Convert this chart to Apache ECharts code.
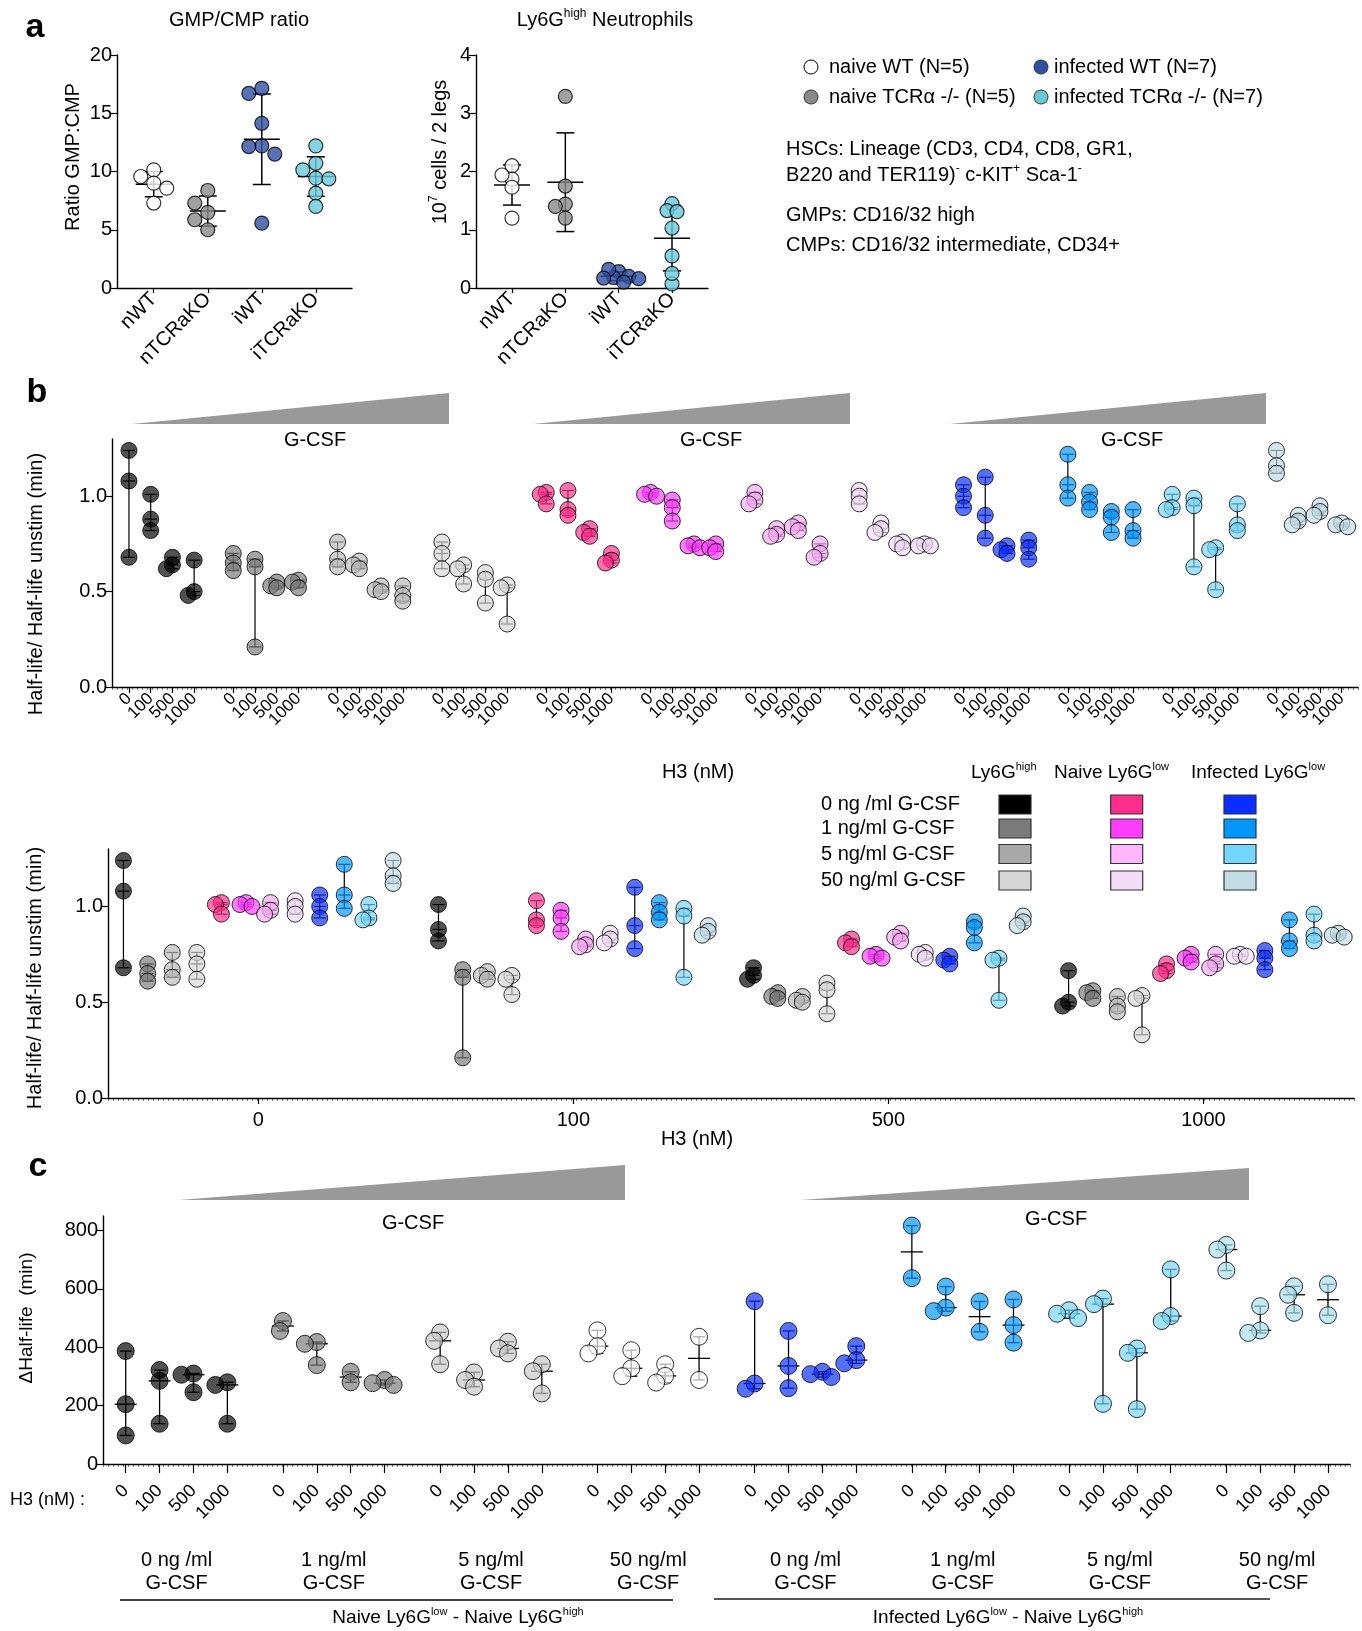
<!DOCTYPE html>
<html><head><meta charset="utf-8">
<script src="https://cdn.jsdelivr.net/npm/echarts@6/dist/echarts.min.js"></script>
<style>html,body{margin:0;padding:0;background:#fff}#c{width:1362px;height:1631px}</style>
</head><body><div id="c"></div>
<script>
// ================= DATA =================
// Panel a
const aCategories = ['nWT', 'nTCRaKO', 'iWT', 'iTCRaKO'];
const gmpCmpNWT = [10.14, 9.57, 9.0, 8.57, 7.29];
const gmpCmpNTCRaKO = [8.37, 7.29, 6.49, 5.86, 5.0];
const gmpCmpIWT = [17.14, 16.7, 14.14, 12.2, 12.14, 11.5, 5.57];
const gmpCmpITCRaKO = [12.2, 10.7, 10.14, 9.43, 9.37, 8.14, 7.0];
const neutroNWT = [2.10, 1.87, 1.94, 1.73, 1.20];
const neutroNTCRaKO = [3.29, 1.75, 1.44, 1.40, 1.20];
const neutroIWT = [0.28, 0.18, 0.20, 0.32, 0.17, 0.10, 0.16];
const neutroITCRaKO = [1.45, 1.33, 1.31, 1.03, 0.55, 0.07, 0.25];
const aLegendLabels = ['naive WT (N=5)', 'naive TCRα -/- (N=5)', 'infected WT (N=7)', 'infected TCRα -/- (N=7)'];

// Panel b : [H3 0, 100, 500, 1000] x replicates (half-life ratio)
const h3Labels = ['0', '100', '500', '1000'];
const gcsfLabels = ['0 ng /ml G-CSF', '1 ng/ml G-CSF', '5 ng/ml G-CSF', '50 ng/ml G-CSF'];
const gcsfShort = ['0 ng /ml', '1 ng/ml', '5 ng/ml', '50 ng/ml'];
const bHigh0   = [[1.24, 1.08, 0.68], [1.01, 0.88, 0.82], [0.68, 0.64, 0.62], [0.665, 0.50, 0.48]];
const bHigh1   = [[0.70, 0.65, 0.61], [0.67, 0.63, 0.21], [0.55, 0.53, 0.52], [0.56, 0.55, 0.52]];
const bHigh5   = [[0.76, 0.67, 0.63], [0.66, 0.64, 0.62], [0.53, 0.51, 0.50], [0.53, 0.48, 0.45]];
const bHigh50  = [[0.76, 0.70, 0.62], [0.64, 0.62, 0.54], [0.60, 0.565, 0.44], [0.535, 0.52, 0.33]];
const bNaive0  = [[1.02, 1.01, 0.96], [1.03, 0.93, 0.90], [0.83, 0.81, 0.79], [0.70, 0.665, 0.65]];
const bNaive1  = [[1.02, 1.01, 1.00], [0.98, 0.94, 0.87], [0.75, 0.74, 0.73], [0.75, 0.73, 0.71]];
const bNaive5  = [[1.02, 0.98, 0.96], [0.83, 0.80, 0.79], [0.86, 0.84, 0.82], [0.75, 0.70, 0.68]];
const bNaive50 = [[1.03, 1.00, 0.96], [0.86, 0.83, 0.81], [0.76, 0.75, 0.73], [0.75, 0.74, 0.74]];
const bInf0    = [[1.06, 1.00, 0.94], [1.10, 0.90, 0.78], [0.74, 0.72, 0.70], [0.77, 0.73, 0.67]];
const bInf1    = [[1.22, 1.06, 0.99], [1.02, 0.97, 0.93], [0.92, 0.89, 0.81], [0.93, 0.82, 0.78]];
const bInf5    = [[1.01, 0.94, 0.93], [0.99, 0.95, 0.63], [0.73, 0.72, 0.51], [0.96, 0.85, 0.82]];
const bInf50   = [[1.24, 1.16, 1.12], [0.90, 0.87, 0.85], [0.95, 0.92, 0.90], [0.86, 0.85, 0.84]];

// Panel c : delta half-life (min)
const cNaive0  = [[387, 205, 98], [322, 285, 138], [310, 306, 246], [280, 271, 138]];
const cNaive1  = [[490, 456], [418, 412, 339], [316, 280], [288, 277, 271]];
const cNaive5  = [[451, 422, 342], [314, 288, 265], [419, 396, 379], [342, 318, 242]];
const cNaive50 = [[458, 404, 379], [390, 328, 301], [342, 302, 279], [436, 288]];
const cInf0    = [[558, 276, 258], [456, 336, 260], [316, 308, 298], [404, 356, 345]];
const cInf1    = [[817, 637], [608, 536, 524], [557, 453], [564, 476, 416]];
const cInf5    = [[527, 515, 500], [567, 548, 206], [396, 381, 188], [667, 507, 490]];
const cInf50   = [[751, 735, 663], [541, 458, 449], [609, 580, 518], [616, 510]];

const bGroups = [bHigh0, bHigh1, bHigh5, bHigh50, bNaive0, bNaive1, bNaive5, bNaive50, bInf0, bInf1, bInf5, bInf50];
const cGroups = [cNaive0, cNaive1, cNaive5, cNaive50, cInf0, cInf1, cInf5, cInf50];

// ================= STYLE / LAYOUT =================
const FONT = '"Liberation Sans", Arial, Helvetica, sans-serif';
const aFill = ['#ffffff', '#8a8a8a', '#2f4fa3', '#66c9dc'];
const bFill = ['#000000', '#7a7a7a', '#b8b8b8', '#d6d6d6', '#ff2e8a', '#ff3dff', '#f9a8f6', '#f2dcf7', '#0a2eff', '#0096ff', '#75d6ff', '#c2dce6'];
const cFill = ['#000000', '#7a7a7a', '#c8c8c8', '#ffffff', '#0a2eff', '#0096ff', '#75d6ff', '#a9e0f0'];
const legendFill = [
  ['#000000', '#7a7a7a', '#a8a8a8', '#d6d6d6'],
  ['#ff2e8a', '#ff3dff', '#ffb8ff', '#f2dcf7'],
  ['#0a2eff', '#0096ff', '#75d6ff', '#c2dce6']
];
const G = {
  a1: {left: 117, top: 55, width: 235, height: 233},
  a2: {left: 476, top: 55, width: 232, height: 233},
  b1: {left: 112, top: 439, width: 1246, height: 248},
  b2: {left: 108, top: 849, width: 1246, height: 249},
  c:  {left: 103, top: 1216, width: 1247, height: 248}
};
const B1X = {min: -0.78, max: 56.55, gStep: 4.8};
const B2X = {min: -0.477, max: 3.478, sub: 0.0779};
const CX  = {min: -0.67, max: 36.13, gStep: 4.64};
const AX1 = {min: -0.68, max: 3.67};
const AX2 = {min: -0.675, max: 3.675};

// ================= HELPERS =================
function rgba(hex, a) {
  const n = parseInt(hex.slice(1), 16);
  return 'rgba(' + (n >> 16 & 255) + ',' + (n >> 8 & 255) + ',' + (n & 255) + ',' + a + ')';
}
function median(a) {
  const s = a.slice().sort((x, y) => x - y), n = s.length;
  return n % 2 ? s[(n - 1) / 2] : (s[n / 2 - 1] + s[n / 2]) / 2;
}
function meanSd(a) {
  const m = a.reduce((s, v) => s + v, 0) / a.length;
  const sd = Math.sqrt(a.reduce((s, v) => s + (v - m) * (v - m), 0) / (a.length - 1));
  return [m, sd];
}
// simple beeswarm: pixel offsets so points do not pile up
function swarm(vals, pxPerUnit, minSep, step) {
  const placed = [], out = [];
  vals.forEach(v => {
    let dx = 0;
    for (let k = 0; k < 60; k++) {
      const cand = (k % 2 === 1 ? -1 : 1) * Math.ceil(k / 2) * step;
      if (placed.every(p => Math.hypot(cand - p.dx, (v - p.v) * pxPerUnit) >= minSep)) { dx = cand; break; }
    }
    placed.push({v, dx}); out.push(dx);
  });
  return out;
}
function rangeBars(capW, midW, lw) {
  return function (params, api) {
    const x = api.value(0);
    const lo = api.coord([x, api.value(1)]);
    const hi = api.coord([x, api.value(2)]);
    const md = api.coord([x, api.value(3)]);
    const st = {stroke: '#000', lineWidth: lw};
    const L = (x1, y1, x2, y2) => ({type: 'line', shape: {x1, y1, x2, y2}, style: st});
    return {type: 'group', children: [
      L(lo[0], lo[1], hi[0], hi[1]),
      L(lo[0] - capW / 2, lo[1], lo[0] + capW / 2, lo[1]),
      L(hi[0] - capW / 2, hi[1], hi[0] + capW / 2, hi[1]),
      L(md[0] - midW / 2, md[1], md[0] + midW / 2, md[1])
    ]};
  };
}
const round3 = v => Math.round(v * 1000) / 1000;
const xB1 = (g, h) => round3(g * B1X.gStep + h);
const xB2 = (g, h) => round3(h + (g - 5.5) * B2X.sub);
const xC  = (g, h) => round3(g * CX.gStep + h);

function groupScatter(groups, fills, xOf, xi, yi, pxY, size, minSep, step, alpha) {
  return groups.map((grp, g) => {
    const data = [];
    grp.forEach((vals, h) => {
      const offs = swarm(vals, pxY, minSep, step);
      vals.forEach((v, j) => data.push({value: [xOf(g, h), v], symbolOffset: [offs[j], 0]}));
    });
    return {type: 'scatter', xAxisIndex: xi, yAxisIndex: yi, symbol: 'circle', symbolSize: size, data, z: 3,
      silent: true, itemStyle: {color: rgba(fills[g], alpha), borderColor: '#000', borderWidth: 1}};
  });
}
function groupBars(groups, xOf, xi, yi, capW, midW, lw) {
  const data = [];
  groups.forEach((grp, g) => grp.forEach((vals, h) =>
    data.push([xOf(g, h), Math.min(...vals), Math.max(...vals), median(vals)])));
  return {type: 'custom', xAxisIndex: xi, yAxisIndex: yi, renderItem: rangeBars(capW, midW, lw), data, z: 2, silent: true};
}

// ================= AXES =================
const lbl = (size, extra) => Object.assign({color: '#000', fontSize: size, fontFamily: FONT, showMinLabel: true, showMaxLabel: true}, extra || {});
const axLine = {show: true, onZero: false, lineStyle: {color: '#000', width: 1.4}};
function tickVals(nG, xOf) { const t = []; for (let g = 0; g < nG; g++) for (let h = 0; h < 4; h++) t.push(xOf(g, h)); return t; }
const b1Ticks = tickVals(12, xB1);
// empty guard labels at both ends keep ECharts from dropping real end labels
const b1LabelVals = [B1X.min].concat(b1Ticks, [B1X.max]);
const cTicks = tickVals(8, xC);
const h3Of = (v, step) => { const g = Math.floor((v + 0.5) / step); return h3Labels[Math.round(v - g * step)]; };
const b1Label = v => (v <= B1X.min + 0.01 || v >= B1X.max - 0.01) ? '' : h3Of(v, B1X.gStep);

function minorAxis(gi) {
  return {gridIndex: gi, type: 'value', min: 0, max: 1, interval: 0.004, position: 'bottom',
    axisLine: {show: false, onZero: false}, axisTick: {show: true, length: 3, lineStyle: {color: '#000', width: 0.5}},
    axisLabel: {show: false}, splitLine: {show: false}};
}

const xAxes = [
  {gridIndex: 0, type: 'value', min: AX1.min, max: AX1.max, axisLine: axLine,
    axisTick: {customValues: [0, 1, 2, 3], length: 5, lineStyle: {color: '#000', width: 1.2}},
    axisLabel: lbl(20, {customValues: [0, 1, 2, 3], formatter: v => aCategories[Math.round(v)], rotate: 45, margin: 8}),
    splitLine: {show: false}},
  {gridIndex: 1, type: 'value', min: AX2.min, max: AX2.max, axisLine: axLine,
    axisTick: {customValues: [0, 1, 2, 3], length: 5, lineStyle: {color: '#000', width: 1.2}},
    axisLabel: lbl(20, {customValues: [0, 1, 2, 3], formatter: v => aCategories[Math.round(v)], rotate: 45, margin: 8}),
    splitLine: {show: false}},
  {gridIndex: 2, type: 'value', min: B1X.min, max: B1X.max, position: 'bottom', axisLine: axLine,
    axisTick: {customValues: b1Ticks, length: 6, lineStyle: {color: '#000', width: 1.2}},
    axisLabel: lbl(17, {customValues: b1LabelVals, formatter: b1Label, rotate: 45, margin: 9, hideOverlap: false}),
    splitLine: {show: false}},
  minorAxis(2),
  {gridIndex: 3, type: 'value', min: B2X.min, max: B2X.max, position: 'bottom', axisLine: axLine,
    axisTick: {customValues: [0, 1, 2, 3], length: 6, lineStyle: {color: '#000', width: 1.2}},
    axisLabel: lbl(20, {customValues: [0, 1, 2, 3], formatter: v => h3Labels[Math.round(v)], margin: 12}),
    splitLine: {show: false}},
  minorAxis(3),
  {gridIndex: 4, type: 'value', min: CX.min, max: CX.max, position: 'bottom', axisLine: axLine,
    axisTick: {customValues: cTicks, length: 9, lineStyle: {color: '#000', width: 1.2}},
    axisLabel: lbl(18, {customValues: cTicks, formatter: v => h3Of(v, CX.gStep), rotate: 45, margin: 24}),
    splitLine: {show: false}},
  minorAxis(4)
];
function yAx(gi, min, max, vals, fmt) {
  return {gridIndex: gi, type: 'value', min, max, position: 'left', axisLine: axLine,
    axisTick: {show: true, customValues: vals, length: 7, lineStyle: {color: '#000', width: 1.2}},
    axisLabel: lbl(20, {customValues: vals, formatter: fmt, margin: 5}),
    splitLine: {show: false}};
}
const yAxes = [
  yAx(0, 0, 20, [0, 5, 10, 15, 20], v => String(v)),
  yAx(1, 0, 4, [0, 1, 2, 3, 4], v => String(v)),
  yAx(2, 0, 1.3, [0, 0.5, 1], v => v.toFixed(1)),
  yAx(3, 0, 1.3, [0, 0.5, 1], v => v.toFixed(1)),
  yAx(4, 0, 850, [0, 200, 400, 600, 800], v => String(v))
];

// ================= SERIES =================
const series = [];
function panelA(sets, xi, yi, pxY, minSep, step) {
  const bars = sets.map((arr, i) => { const [m, sd] = meanSd(arr); return [i, m - sd, m + sd, m]; });
  series.push({type: 'custom', xAxisIndex: xi, yAxisIndex: yi, renderItem: rangeBars(18, 36, 1.5), data: bars, z: 2, silent: true});
  sets.forEach((arr, i) => {
    const offs = swarm(arr, pxY, minSep, step);
    series.push({type: 'scatter', name: aLegendLabels[i], xAxisIndex: xi, yAxisIndex: yi, symbol: 'circle', symbolSize: 14, z: 3, silent: true,
      data: arr.map((v, j) => ({value: [i, v], symbolOffset: [offs[j], 0]})),
      itemStyle: {color: aFill[i], borderColor: '#000', borderWidth: 1.2}});
  });
}
panelA([gmpCmpNWT, gmpCmpNTCRaKO, gmpCmpIWT, gmpCmpITCRaKO], 0, 0, G.a1.height / 20, 13, 13);
panelA([neutroNWT, neutroNTCRaKO, neutroIWT, neutroITCRaKO], 1, 1, G.a2.height / 4, 7, 5);

const pxB = G.b1.height / 1.3, pxC = G.c.height / 850;
series.push(groupBars(bGroups, xB1, 2, 2, 12, 12, 1.2));
series.push(...groupScatter(bGroups, bFill, xB1, 2, 2, pxB, 16, 5, 3, 0.85));
series.push(groupBars(bGroups, xB2, 4, 3, 12, 12, 1.2));
series.push(...groupScatter(bGroups, bFill, xB2, 4, 3, pxB, 16, 5, 3, 0.85));
series.push(groupBars(cGroups, xC, 6, 4, 12, 22, 1.3));
series.push(...groupScatter(cGroups, cFill, xC, 6, 4, pxC, 17, 10, 3, 0.85));

// ================= GRAPHIC (titles, legends, annotations) =================
const sup = (size) => ({
  n: {fontSize: size, fontFamily: FONT, fill: '#000', lineHeight: size + 4},
  s: {fontSize: Math.round(size * 0.6), fontFamily: FONT, fill: '#000', lineHeight: Math.round(size * 0.6), verticalAlign: 'top'}
});
function txt(text, x, y, o) {
  o = o || {};
  const el = {type: 'text', x, y, rotation: o.rot || 0, silent: true, z: 10,
    style: {text, fontSize: o.size || 20, fontFamily: FONT, fontWeight: o.weight || 'normal', fill: '#000',
      align: o.align || 'left', verticalAlign: o.va || 'middle'}};
  if (o.rich) el.style.rich = o.rich;
  return el;
}
const els = [];
// panel letters
els.push(txt('a', 35, 28, {size: 34, weight: 'bold', align: 'center'}));
els.push(txt('b', 37, 393, {size: 34, weight: 'bold', align: 'center'}));
els.push(txt('c', 38, 1167, {size: 34, weight: 'bold', align: 'center'}));
// panel a titles
els.push(txt('GMP/CMP ratio', 239, 20, {align: 'center'}));
els.push(txt('{n|Ly6G}{s|high}{n| Neutrophils}', 605, 20, {align: 'center', rich: sup(20)}));
els.push(txt('Ratio GMP:CMP', 73, 157, {align: 'center', rot: Math.PI / 2}));
els.push(txt('{n|10}{s|7}{n| cells / 2 legs}', 440, 152, {align: 'center', rot: Math.PI / 2, rich: sup(20)}));
// panel a legend
const aLegPos = [[811, 67], [811, 97], [1041, 67], [1041, 97]];
const aLegGap = [18, 18, 13, 13];
aLegPos.forEach((p, i) => {
  els.push({type: 'circle', shape: {cx: p[0], cy: p[1], r: 7}, silent: true, z: 10,
    style: {fill: aFill[i], stroke: i === 0 ? '#000' : '#333', lineWidth: 1}});
  els.push(txt(aLegendLabels[i], p[0] + aLegGap[i], p[1], {size: 20}));
});
els.push(txt('HSCs: Lineage (CD3, CD4, CD8, GR1,', 786, 149));
els.push(txt('{n|B220 and TER119)}{s|-}{n| c-KIT}{s|+}{n| Sca-1}{s|-}', 786, 175, {rich: sup(20)}));
els.push(txt('GMPs: CD16/32 high', 786, 215));
els.push(txt('CMPs: CD16/32 intermediate, CD34+', 786, 245));

// panel b wedges and labels
[[132, 449], [533, 850], [950, 1266]].forEach(w => els.push({type: 'polygon', silent: true, z: 1,
  shape: {points: [[w[0], 424], [w[1], 424], [w[1], 393]]}, style: {fill: '#999999'}}));
[315, 711, 1132].forEach(x => els.push(txt('G-CSF', x, 440, {align: 'center'})));
els.push(txt('Half-life/ Half-life unstim (min)', 36, 584, {align: 'center', rot: Math.PI / 2}));
els.push(txt('H3 (nM)', 698, 772, {align: 'center'}));
els.push(txt('Half-life/ Half-life unstim (min)', 35, 978, {align: 'center', rot: Math.PI / 2}));
els.push(txt('H3 (nM)', 697, 1139, {align: 'center'}));
// panel b legend
els.push(txt('{n|Ly6G}{s|high}', 971, 773, {rich: sup(19)}));
els.push(txt('{n|Naive Ly6G}{s|low}', 1054, 773, {rich: sup(19)}));
els.push(txt('{n|Infected Ly6G}{s|low}', 1191, 773, {rich: sup(19)}));
const rowY = [804.5, 828.5, 854, 880.5];
const colX = [999, 1110.7, 1224];
gcsfLabels.forEach((t, r) => {
  els.push(txt(t, 821, rowY[r]));
  colX.forEach((x, c) => els.push({type: 'rect', silent: true, z: 10,
    shape: {x: x, y: rowY[r] - 9.5, width: 32, height: 19},
    style: {fill: legendFill[c][r], stroke: '#333', lineWidth: 1.2}}));
});

// panel c wedges and labels
els.push({type: 'polygon', silent: true, z: 1, shape: {points: [[179, 1200], [625, 1200], [625, 1165]]}, style: {fill: '#999999'}});
els.push({type: 'polygon', silent: true, z: 1, shape: {points: [[801, 1200], [1249, 1200], [1249, 1168]]}, style: {fill: '#999999'}});
els.push(txt('G-CSF', 413, 1223, {align: 'center'}));
els.push(txt('G-CSF', 1056, 1219, {align: 'center'}));
els.push(txt('ΔHalf-life  (min)', 27, 1318, {align: 'center', rot: Math.PI / 2, size: 19}));
els.push(txt('H3 (nM) :', 10, 1500, {size: 18}));
const unitC = G.c.width / (CX.max - CX.min);
for (let g = 0; g < 8; g++) {
  const cx = G.c.left + (g * CX.gStep + 1.5 - CX.min) * unitC;
  els.push(txt(gcsfShort[g % 4], cx, 1560, {align: 'center'}));
  els.push(txt('G-CSF', cx, 1583, {align: 'center'}));
}
els.push({type: 'line', silent: true, shape: {x1: 120, y1: 1600, x2: 673, y2: 1600}, style: {stroke: '#000', lineWidth: 1.5}});
els.push({type: 'line', silent: true, shape: {x1: 714, y1: 1599, x2: 1270, y2: 1599}, style: {stroke: '#555', lineWidth: 2}});
els.push(txt('{n|Naive Ly6G}{s|low}{n| - Naive Ly6G}{s|high}', 458, 1618, {align: 'center', rich: sup(19)}));
els.push(txt('{n|Infected Ly6G}{s|low}{n| - Naive Ly6G}{s|high}', 1008, 1618, {align: 'center', rich: sup(19)}));

// ================= CHART =================
const grids = [G.a1, G.a2, G.b1, G.b2, G.c].map(g => Object.assign({show: false, containLabel: false, outerBoundsMode: 'none'}, g));
const chart = echarts.init(document.getElementById('c'), null, {renderer: 'canvas', width: 1362, height: 1631});
chart.setOption({
  animation: false,
  backgroundColor: '#ffffff',
  textStyle: {fontFamily: FONT},
  grid: grids,
  xAxis: xAxes,
  yAxis: yAxes,
  series: series,
  graphic: {elements: els}
});
</script>
</body></html>
